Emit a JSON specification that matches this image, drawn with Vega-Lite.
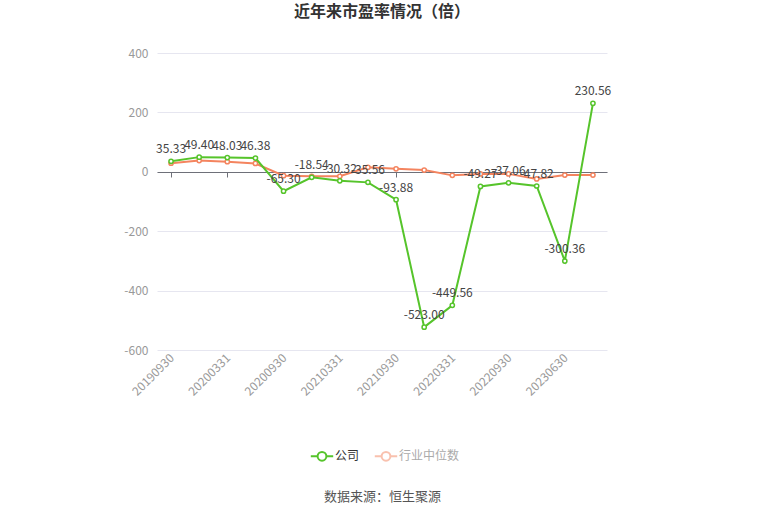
{
  "$schema": "https://vega.github.io/schema/vega-lite/v6.json",
  "description": "近年来市盈率情况：公司与行业中位数",
  "autosize": "none",
  "width": 450,
  "height": 297,
  "padding": {"left": 157, "top": 53, "right": 158, "bottom": 167},
  "background": "#ffffff",
  "title": {
    "text": "近年来市盈率情况（倍）",
    "font": "Noto Sans CJK SC",
    "fontSize": 16,
    "fontWeight": "bold",
    "color": "#333333",
    "anchor": "middle",
    "offset": 27
  },
  "config": {
    "font": "Noto Sans CJK SC",
    "locale": {
      "number": {"decimal": ".", "thousands": ",", "grouping": [3], "currency": ["", ""], "minus": "-"}
    },
    "view": {"stroke": null},
    "axis": {
      "labelFont": "Noto Sans CJK SC",
      "titleFont": "Noto Sans CJK SC",
      "labelFontSize": 12,
      "labelColor": "#999999"
    }
  },
  "data": {
    "values": [
      {"date": "20190930", "series": "公司", "pe": 35.33},
      {"date": "20191231", "series": "公司", "pe": 49.40},
      {"date": "20200331", "series": "公司", "pe": 48.03},
      {"date": "20200630", "series": "公司", "pe": 46.38},
      {"date": "20200930", "series": "公司", "pe": -65.30},
      {"date": "20201231", "series": "公司", "pe": -18.54},
      {"date": "20210331", "series": "公司", "pe": -30.32},
      {"date": "20210630", "series": "公司", "pe": -35.56},
      {"date": "20210930", "series": "公司", "pe": -93.88},
      {"date": "20211231", "series": "公司", "pe": -523.00},
      {"date": "20220331", "series": "公司", "pe": -449.56},
      {"date": "20220630", "series": "公司", "pe": -49.27},
      {"date": "20220930", "series": "公司", "pe": -37.06},
      {"date": "20230331", "series": "公司", "pe": -47.82},
      {"date": "20230630", "series": "公司", "pe": -300.36},
      {"date": "20230930", "series": "公司", "pe": 230.56},
      {"date": "20190930", "series": "行业中位数", "pe": 29},
      {"date": "20191231", "series": "行业中位数", "pe": 38},
      {"date": "20200331", "series": "行业中位数", "pe": 34},
      {"date": "20200630", "series": "行业中位数", "pe": 28},
      {"date": "20200930", "series": "行业中位数", "pe": -13},
      {"date": "20201231", "series": "行业中位数", "pe": -15},
      {"date": "20210331", "series": "行业中位数", "pe": -15},
      {"date": "20210630", "series": "行业中位数", "pe": 15},
      {"date": "20210930", "series": "行业中位数", "pe": 10},
      {"date": "20211231", "series": "行业中位数", "pe": 6},
      {"date": "20220331", "series": "行业中位数", "pe": -12},
      {"date": "20220630", "series": "行业中位数", "pe": -7},
      {"date": "20220930", "series": "行业中位数", "pe": -7},
      {"date": "20230331", "series": "行业中位数", "pe": -24},
      {"date": "20230630", "series": "行业中位数", "pe": -11},
      {"date": "20230930", "series": "行业中位数", "pe": -11}
    ]
  },
  "encoding": {
    "x": {
      "field": "date",
      "type": "ordinal",
      "sort": null,
      "scale": {"type": "point", "padding": 0.5},
      "axis": {
        "values": ["20190930", "20200331", "20200930", "20210331", "20210930", "20220331", "20220930", "20230630"],
        "offset": -178,
        "domainColor": "#6e7079",
        "tickColor": "#6e7079",
        "tickSize": 5,
        "labelAngle": -45,
        "labelPadding": 175,
        "labelOffset": -3,
        "grid": false,
        "title": "数据来源：恒生聚源",
        "titleFontSize": 13,
        "titleFontWeight": "normal",
        "titleColor": "#555555",
        "titleX": 225,
        "titleY": 318,
        "titleAnchor": "middle",
        "titleAlign": "center",
        "titleBaseline": "top"
      }
    },
    "y": {
      "field": "pe",
      "type": "quantitative",
      "scale": {"domain": [-600, 400], "nice": false},
      "axis": {
        "values": [-600, -400, -200, 0, 200, 400],
        "title": null,
        "domain": false,
        "ticks": false,
        "labelPadding": 9,
        "gridColor": "#e6e6f0",
        "gridWidth": 1
      }
    },
    "color": {
      "field": "series",
      "type": "nominal",
      "scale": {"domain": ["公司", "行业中位数"], "range": ["#56c42b", "#f4845f"]},
      "legend": {
        "title": null,
        "orient": "none",
        "direction": "horizontal",
        "legendX": 156,
        "legendY": 394,
        "labelFontSize": 12,
        "labelColor": "#333333",
        "columnPadding": 10,
        "symbolType": "M-1.4,0L-0.55,0M0.55,0L1.4,0M0.55,0A0.55,0.55,0,1,1,-0.55,0A0.55,0.55,0,1,1,0.55,0",
        "symbolSize": 256,
        "symbolStrokeWidth": 2,
        "encode": {
          "labels": {"update": {"fill": {"signal": "datum.value == '行业中位数' ? '#aaaaaa' : '#333333'"}}},
          "symbols": {
            "update": {
              "fill": {"value": "#ffffff"},
              "stroke": {"signal": "datum.value == '行业中位数' ? '#f4845f' : '#56c42b'"},
              "strokeWidth": {"value": 2},
              "opacity": {"signal": "datum.value == '行业中位数' ? 0.5 : 1"}
            }
          }
        }
      }
    }
  },
  "layer": [
    {
      "transform": [{"filter": "datum.series == '行业中位数'"}],
      "mark": {"type": "line", "strokeWidth": 2, "point": {"filled": false, "fill": "#ffffff", "size": 18, "strokeWidth": 1.5}}
    },
    {
      "transform": [{"filter": "datum.series == '公司'"}],
      "mark": {"type": "line", "strokeWidth": 2, "point": {"filled": false, "fill": "#ffffff", "size": 18, "strokeWidth": 1.5}}
    },
    {
      "transform": [{"filter": "datum.series == '公司'"}],
      "mark": {"type": "text", "dy": -12, "fontSize": 12},
      "encoding": {
        "text": {"field": "pe", "type": "quantitative", "format": ".2f"},
        "color": {"value": "#444444"}
      }
    }
  ]
}
